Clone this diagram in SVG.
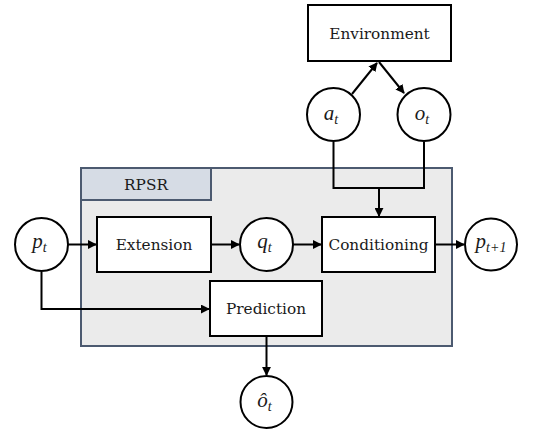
<svg xmlns="http://www.w3.org/2000/svg" width="551" height="429" viewBox="0 0 551 429">
<style>
.box{fill:#fff;stroke:#000;stroke-width:2}
.node{fill:#fff;stroke:#000;stroke-width:2}
.lbl{font-family:"DejaVu Serif","Liberation Serif",serif;font-size:15.3px;fill:#1a1a1a;text-anchor:middle;dominant-baseline:central}
.math{font-family:"Liberation Serif","DejaVu Serif",serif;font-style:italic;font-size:21px;fill:#1a1a1a;text-anchor:middle}
.sub{font-size:14px}
.edge{fill:none;stroke:#000;stroke-width:2}
</style>
<defs>
<marker id="arr" viewBox="0 0 10 10" refX="9" refY="5" markerWidth="4.5" markerHeight="4.5" orient="auto" markerUnits="strokeWidth">
<path d="M0,0 L10,5 L0,10 z" fill="#000"/>
</marker>
</defs>
<g id="rpsr">
<rect x="81" y="168" width="371" height="178" fill="#ebebeb" stroke="#4c5a70" stroke-width="2"/>
<rect x="81" y="168" width="130" height="32" fill="#d6dce5" stroke="#4c5a70" stroke-width="2"/>
<text class="lbl" x="146" y="185">RPSR</text>
</g>
<g id="connectors">
<path class="edge" d="M352,94 L377,63" marker-end="url(#arr)"/>
<path class="edge" d="M379,62 L404,93" marker-end="url(#arr)"/>
<path class="edge" d="M333.5,142 V188 H424 V142"/>
<path class="edge" d="M379,188 V216" marker-end="url(#arr)"/>
<path class="edge" d="M68,244.5 H96" marker-end="url(#arr)"/>
<path class="edge" d="M211,244.5 H239" marker-end="url(#arr)"/>
<path class="edge" d="M293,244.5 H321" marker-end="url(#arr)"/>
<path class="edge" d="M435,244.5 H464" marker-end="url(#arr)"/>
<path class="edge" d="M41.5,272 V309 H209" marker-end="url(#arr)"/>
<path class="edge" d="M266.5,336 V375" marker-end="url(#arr)"/>
</g>
<g id="environment">
<rect class="box" x="308" y="5" width="143" height="56"/>
<text class="lbl" x="379.5" y="34">Environment</text>
</g>
<g id="a_t">
<circle class="node" cx="333.5" cy="114.5" r="26.5"/>
<text class="math" x="331" y="120">a<tspan class="sub" dy="4">t</tspan></text>
</g>
<g id="o_t">
<circle class="node" cx="424" cy="114.5" r="26.5"/>
<text class="math" x="422" y="120">o<tspan class="sub" dy="4">t</tspan></text>
</g>
<g id="p_t">
<circle class="node" cx="41.5" cy="244.5" r="26.5"/>
<text class="math" x="39.5" y="248">p<tspan class="sub" dy="4">t</tspan></text>
</g>
<g id="extension">
<rect class="box" x="97" y="217" width="114" height="55"/>
<text class="lbl" x="154" y="244.5">Extension</text>
</g>
<g id="q_t">
<circle class="node" cx="266.5" cy="244.5" r="26.5"/>
<text class="math" x="264.5" y="248">q<tspan class="sub" dy="4">t</tspan></text>
</g>
<g id="conditioning">
<rect class="box" x="322" y="217" width="113" height="55"/>
<text class="lbl" x="378.5" y="244.5">Conditioning</text>
</g>
<g id="p_t1">
<circle class="node" cx="491" cy="244.5" r="26"/>
<text class="math" x="491" y="248">p<tspan class="sub" dy="4">t+1</tspan></text>
</g>
<g id="prediction">
<rect class="box" x="210" y="281" width="112" height="55"/>
<text class="lbl" x="266" y="308.5">Prediction</text>
</g>
<g id="o_hat">
<circle class="node" cx="266.5" cy="402" r="26"/>
<text class="math" x="264.5" y="407">ô<tspan class="sub" dy="4">t</tspan></text>
</g>
</svg>
